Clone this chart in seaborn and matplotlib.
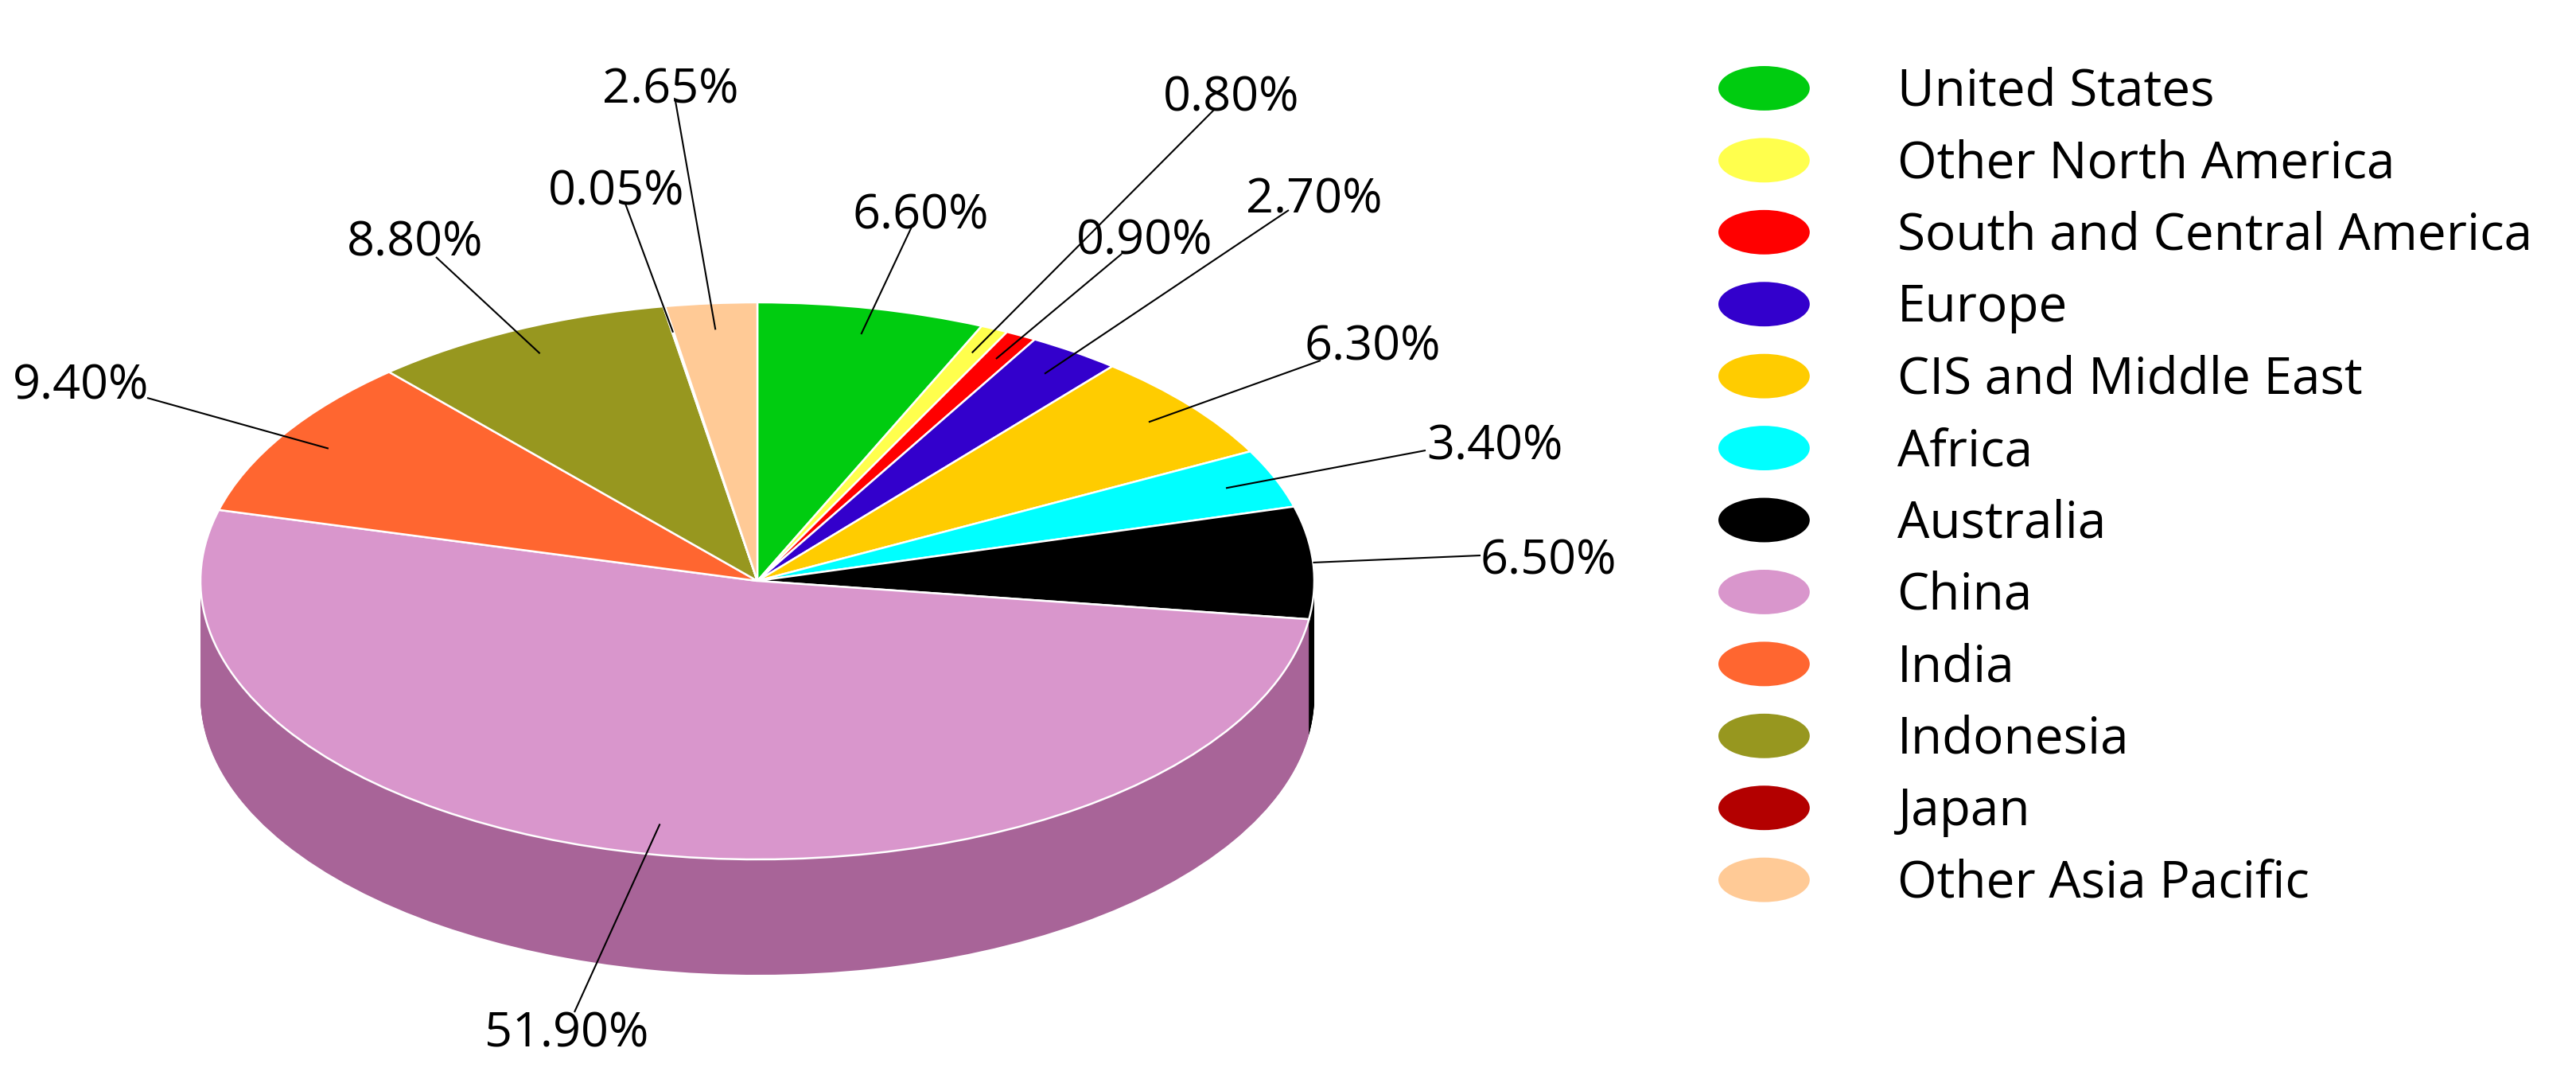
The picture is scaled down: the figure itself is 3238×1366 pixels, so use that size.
import numpy as np
import pandas as pd
import matplotlib
matplotlib.use("Agg")
import matplotlib.pyplot as plt
from matplotlib.legend_handler import HandlerPatch
from matplotlib.patches import Ellipse, Wedge
import seaborn as sns

# Share of each region, in percent
regions = ["United States", "Other North America", "South and Central America",
           "Europe", "CIS and Middle East", "Africa", "Australia", "China",
           "India", "Indonesia", "Japan", "Other Asia Pacific"]
shares = [6.60, 0.80, 0.90, 2.70, 6.30, 3.40, 6.50, 51.90, 9.40, 8.80, 0.05, 2.65]
colors = ["#00CC10", "#FFFF4D", "#FF0000", "#3300CC", "#FFCC00", "#00FFFF",
          "#000000", "#D996CC", "#FF6630", "#97971F", "#B30000", "#FFCA96"]

# Where the labels sit, in picture pixels (y from the top)
label_x = [1157, 1548, 1439, 1652, 1725, 1879, 1946, 712, 102, 522, 775, 843]
label_y = [272, 123, 303, 252, 436, 561, 705, 1300, 485, 306, 241, 114]
line_end_x = [1146, 1526, 1410, 1620, 1660, 1792, 1861, 722, 185, 548, 786, 849]
line_end_y = [285, 138, 319, 264, 453, 566, 698, 1272, 500, 323, 256, 127]
line_radius = [0.905, 0.905, 0.905, 0.905, 0.905, 0.905, 1.0, 0.89, 0.905, 0.905, 0.905, 0.905]

# Pie shape in pixels
CX, CY, RX, RY, DEPTH = 952, 730, 700, 350, 145
W, H = 3238, 1366


def px(x, y):
    # picture pixels to data units of the squashed pie
    return (np.asarray(x) - CX) / RX, (CY - np.asarray(y)) / RY


class HandlerEllipse(HandlerPatch):
    def create_artists(self, legend, orig_handle, xdescent, ydescent, width, height, fontsize, trans):
        e = Ellipse((width / 2 - xdescent, height / 2 - ydescent), width, height,
                    facecolor=orig_handle.get_facecolor(), edgecolor="none", transform=trans)
        return [e]


sns.set_theme(style="white")
plt.rcParams["font.family"] = ["Open Sans", "DejaVu Sans"]

df = pd.DataFrame({"region": regions, "share": shares, "color": colors})
palette = sns.color_palette(colors)
dark = [(c[0] * 0.775, c[1] * 0.665, c[2] * 0.745) for c in palette]

fig = plt.figure(figsize=(W / 100, H / 100), dpi=100)
ax = fig.add_axes([0, 0, 1, 1])

# Side wall: the same pie stacked downwards in a darker colour
for d in np.arange(DEPTH, 0, -1.0):
    ax.pie(df["share"], colors=dark, startangle=90, counterclock=False, radius=1,
           center=(0, -d / RY), wedgeprops={"linewidth": 0})

# Top face
wedges, _ = ax.pie(df["share"], colors=palette, startangle=90, counterclock=False, radius=1,
                   wedgeprops={"edgecolor": "white", "linewidth": 1.8})

ax.set_aspect("auto")
ax.set_xlim(-CX / RX, (W - CX) / RX)
ax.set_ylim((CY - H) / RY, CY / RY)

# Leader lines start at the middle of each slice
mid = 90 - 360 * (np.cumsum(shares) - np.array(shares) / 2) / np.sum(shares)
tip_x = np.array(line_radius) * np.cos(np.radians(mid))
tip_y = np.array(line_radius) * np.sin(np.radians(mid))
end_x, end_y = px(line_end_x, line_end_y)
text_x, text_y = px(label_x, label_y)

for i, share in enumerate(shares):
    ax.plot([tip_x[i], end_x[i]], [tip_y[i], end_y[i]], color="black", lw=1.5, solid_capstyle="butt", zorder=5)
    ax.text(text_x[i], text_y[i], f"{share:.2f}%", ha="center", va="center",
            fontsize=44, color="black", zorder=6)

# Legend
ax.legend(wedges, regions, loc="upper left", bbox_to_anchor=(2160 / W, 1 - 83 / H),
          bbox_transform=fig.transFigure, frameon=False, fontsize=46, borderpad=0, borderaxespad=0,
          handlelength=115 / 64, handleheight=62 / 64, handletextpad=110 / 64, labelspacing=0.4,
          labelcolor="black", handler_map={Wedge: HandlerEllipse()})

fig.savefig("out.png", dpi=100, facecolor="white")
